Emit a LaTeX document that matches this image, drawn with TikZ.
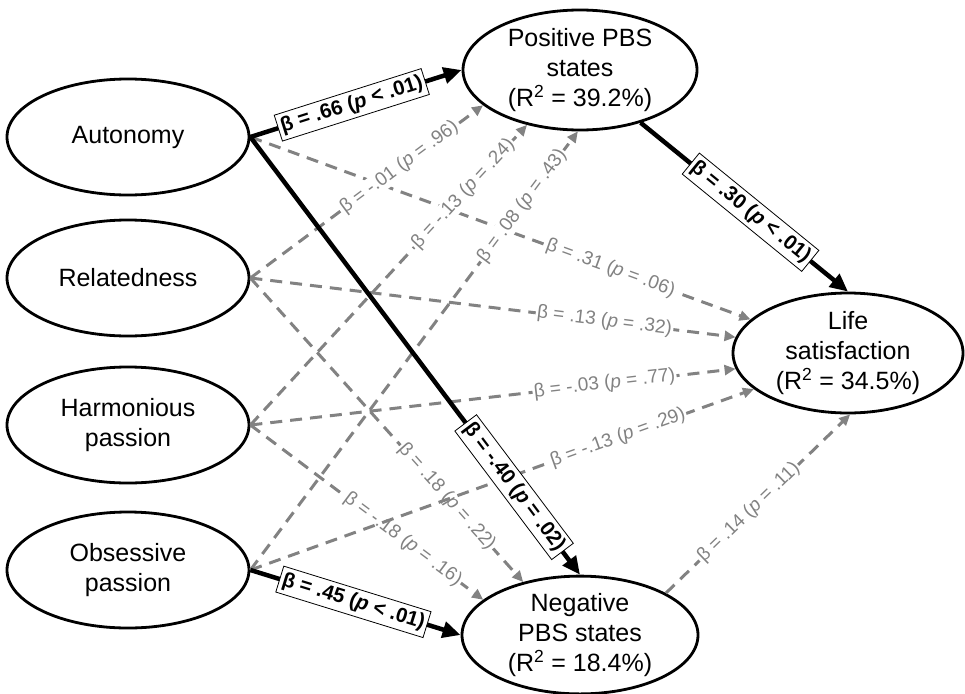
\documentclass[tikz,border=0pt]{standalone}
\usepackage{fontspec}
\setmainfont{Liberation Sans}
\usetikzlibrary{shapes.geometric,arrows.meta}
\definecolor{dgray}{RGB}{130,130,130}
\begin{document}
\begin{tikzpicture}[x=1pt,y=-1pt,
 var/.style={ellipse,draw,line width=2.8pt,inner sep=0pt,align=center,font=\fontsize{25}{30}\selectfont},
 sol/.style={line width=4.5pt,-{Triangle[length=18pt,width=16pt]}},
 das/.style={draw=dgray,line width=3pt,dash pattern=on 12pt off 8pt,-{Triangle[length=11pt,width=10pt]}},
 glab/.style={sloped,fill=white,text=dgray,inner sep=1.5pt,font=\fontsize{19}{21}\selectfont},
 blab/.style={sloped,fill=white,draw=black,line width=0.8pt,inner xsep=3pt,inner ysep=4pt,font=\bfseries\fontsize{20.5}{22}\selectfont}]
\useasboundingbox (0,0) rectangle (965,693);
% nodes
\node[var,minimum width=242pt,minimum height=116pt] (aut) at (128,137) {Autonomy};
\node[var,minimum width=242pt,minimum height=116pt] (rel) at (128,278) {Relatedness};
\node[var,minimum width=242pt,minimum height=116pt] (har) at (128,425) {Harmonious\\passion};
\node[var,minimum width=242pt,minimum height=116pt] (obs) at (128,570) {Obsessive\\passion};
\node[var,minimum width=234pt,minimum height=120pt] (pos) at (580,70) {Positive PBS\\states\\(R\textsuperscript{2} = 39.2\%)};
\node[var,minimum width=230pt,minimum height=120pt] (lif) at (848,353) {Life\\satisfaction\\(R\textsuperscript{2} = 34.5\%)};
\node[var,minimum width=236pt,minimum height=114pt] (neg) at (580,635) {Negative\\PBS states\\(R\textsuperscript{2} = 18.4\%)};
% dashed (non-significant) paths
\draw[das] (aut.east) -- node[glab,pos=0.72]{β = .31 (\textit{p} = .06)} (lif.161);
\draw[das] (rel.east) -- node[glab,pos=0.64]{β = -.01 (\textit{p} = .96)} (pos.200);
\draw[das] (rel.east) -- node[glab,pos=0.73]{β = .13 (\textit{p} = .32)} (lif.172);
\draw[das] (rel.east) -- node[glab,pos=0.72]{β = .18 (\textit{p} = .22)} (neg.137);
\draw[das] (har.east) -- node[glab,pos=0.77]{β = -.13 (\textit{p} = .24)} (pos.226);
\draw[das] (har.east) -- node[glab,pos=0.73]{β = -.03 (\textit{p} = .77)} (lif.188);
\draw[das] (har.east) -- node[glab,pos=0.655]{β = -.18 (\textit{p} = .16)} (neg.160);
\draw[das] (obs.east) -- node[glab,pos=0.83]{β = .08 (\textit{p} = .43)} (pos.268);
\draw[das] (obs.east) -- node[glab,pos=0.73]{β = -.13 (\textit{p} = .29)} (lif.201);
\draw[das] (neg.26) -- node[glab,pos=0.45]{β = .14 (\textit{p} = .11)} (lif.-88);
% solid (significant) paths
\draw[sol] (aut.east) -- node[blab,pos=0.48]{β = .66 (\textit{p} < .01)} (pos.west);
\draw[sol] (aut.east) -- node[blab,pos=0.8]{β = -.40 (\textit{p} = .02)} (neg.north);
\draw[sol] (obs.east) -- node[blab,pos=0.49]{β = .45 (\textit{p} < .01)} (neg.west);
\draw[sol] (pos.-41) -- node[blab,pos=0.53]{β = .30 (\textit{p} < .01)} (lif.north);
\end{tikzpicture}
\end{document}
